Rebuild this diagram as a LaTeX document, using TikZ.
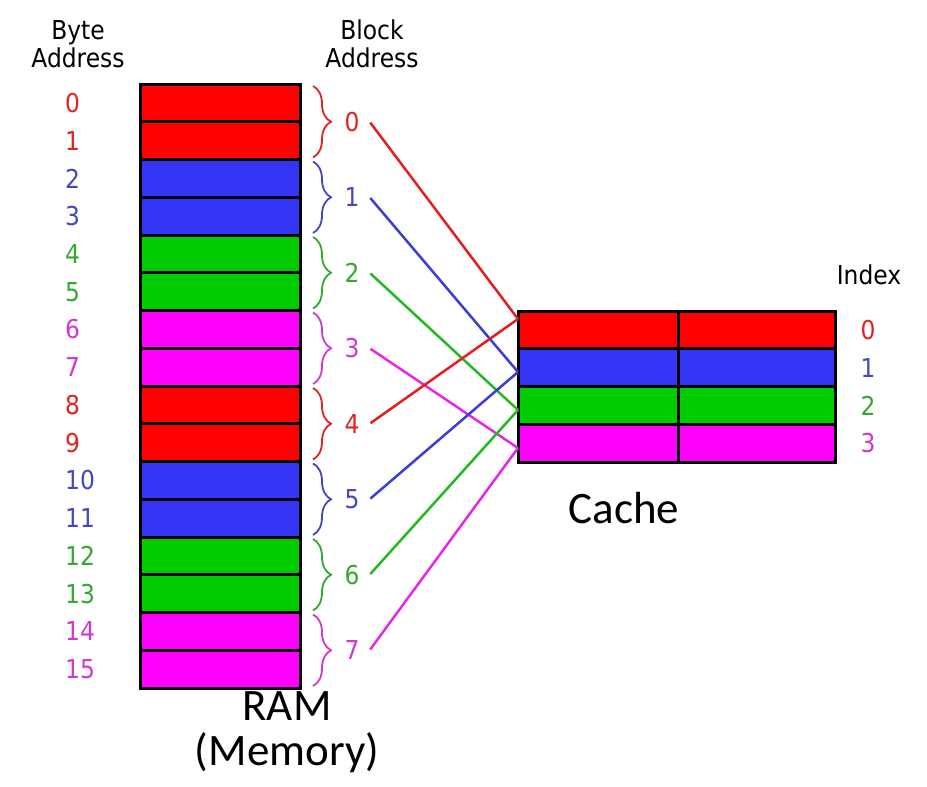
\documentclass[tikz,border=0pt]{standalone}
\usepackage{fontspec}
\usetikzlibrary{decorations.pathreplacing}
\newfontfamily\labfont{DejaVu Sans}[FakeStretch=0.9]
\newfontfamily\capfont{Carlito}
% cell fills, label colours and connector colours, one per cache index
\definecolor{fill0}{RGB}{255,0,0}
\definecolor{fill1}{RGB}{52,52,245}
\definecolor{fill2}{RGB}{0,204,0}
\definecolor{fill3}{RGB}{255,0,255}
\definecolor{txt0}{RGB}{225,35,35}
\definecolor{txt1}{RGB}{70,70,195}
\definecolor{txt2}{RGB}{50,170,50}
\definecolor{txt3}{RGB}{210,55,210}
\definecolor{ln0}{RGB}{228,30,30}
\definecolor{ln1}{RGB}{60,60,215}
\definecolor{ln2}{RGB}{35,185,35}
\definecolor{ln3}{RGB}{228,40,228}
\tikzset{
  cell/.style={draw=black, line width=3pt, inner sep=0pt, minimum height=37.75},
  lab/.style={font=\labfont\fontsize{26}{28}\selectfont, inner sep=2pt},
  blk/.style={font=\labfont\fontsize{26}{28}\selectfont, inner xsep=10pt, inner ysep=2pt},
  grp/.style={decorate, decoration={brace, amplitude=18pt}, line width=1.8pt},
  conn/.style={line width=2.5pt, shorten <=1pt},
  title/.style={font=\capfont\fontsize{45}{46}\selectfont, anchor=base, inner sep=0pt}
}
\begin{document}
\begin{tikzpicture}[x=1pt, y=-1pt]
\useasboundingbox[fill=white] (0,0) rectangle (927,787);

% column headers
\node[lab, align=center] (bytehdr) at (78,44) {Byte\\Address};
\node[lab, align=center] (blockhdr) at (372,44) {Block\\Address};
\node[lab] (idxhdr) at (869,275) {Index};

% memory: sixteen byte cells, two per block
\foreach \i in {0,...,15} {
  \pgfmathtruncatemacro\blk{\i/2}
  \pgfmathtruncatemacro\col{mod(\blk,4)}
  \node[cell, fill=fill\col, minimum width=160] (m\i) at (220,{84+37.75*\i+18.875}) {};
  \node[lab, anchor=west, text=txt\col] (a\i) at (63,{103+37.75*\i}) {\i};
}

% cache: four indexed rows of two cells
\foreach \r in {0,...,3} {
  \node[cell, fill=fill\r, minimum width=160] (cl\r) at (598,{311+37.75*\r+18.875}) {};
  \node[cell, fill=fill\r, minimum width=157] (cr\r) at (756.5,{311+37.75*\r+18.875}) {};
  \node[lab, text=txt\r] (ix\r) at (868,{330+37.75*\r}) {\r};
}

% entry points on the cache's left edge
\coordinate (in0) at (518,319);
\coordinate (in1) at (518,372);
\coordinate (in2) at (518,410);
\coordinate (in3) at (518,448);

% block braces, block numbers and their mapping into the cache
\foreach \k in {0,...,7} {
  \pgfmathtruncatemacro\col{mod(\k,4)}
  \draw[grp, draw=txt\col] (313,{84+75.5*\k+2}) -- (313,{84+75.5*(\k+1)-2});
  \node[blk, text=txt\col] (b\k) at (352,{84+75.5*\k+37.75}) {\k};
  \draw[conn, draw=ln\col] (b\k.east) -- (in\col);
}

% captions
\node[title] (ramlbl) at (287,720) {RAM};
\node[title] (memlbl) at (287,765) {(Memory)};
\node[title] (cachelbl) at (624,523) {Cache};
\end{tikzpicture}
\end{document}
